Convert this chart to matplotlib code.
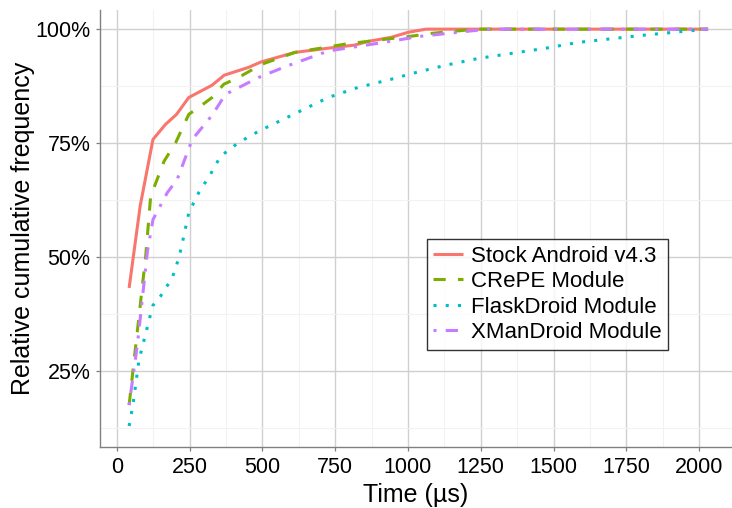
import matplotlib
matplotlib.use("Agg")
import matplotlib.pyplot as plt
from matplotlib.ticker import MultipleLocator, FuncFormatter

plt.rcParams['font.family'] = ['Liberation Sans', 'DejaVu Sans']

# ---- data ----
stock_x = [42, 80, 124, 167, 205, 247, 327, 369, 452, 495, 612, 749, 817, 862, 942, 1000, 1062, 2031]
stock_y = [43.2, 61.2, 75.8, 79.1, 81.3, 85.0, 87.7, 89.9, 91.6, 92.8, 94.9, 96.0, 96.5, 97.3, 98.2, 99.3, 100, 100]

crepe_x = [42, 99, 116, 162, 202, 247, 281, 327, 367, 418, 498, 612, 783, 925, 1005, 1085, 1153, 1233, 2031]
crepe_y = [17.5, 50.2, 63.3, 71.0, 75.1, 81.3, 82.8, 85.0, 87.9, 89.4, 92.3, 94.9, 96.7, 97.8, 98.4, 99.1, 99.5, 100, 100]

flask_x = [42, 55, 76, 114, 124, 150, 190, 213, 230, 247, 281, 321, 356, 418, 487, 584, 726, 828, 942,
           1016, 1131, 1244, 1358, 1472, 1586, 1700, 1814, 1928, 2031]
flask_y = [12.9, 17.5, 27.4, 37.0, 39.4, 41.4, 45.4, 49.8, 54.6, 59.7, 64.1, 68.1, 72.1, 75.1, 77.6, 80.6, 85.0, 87.2, 89.0,
           90.3, 92.1, 93.6, 94.7, 95.8, 97.1, 97.9, 98.7, 99.4, 100]

xman_x = [42, 71, 105, 124, 173, 207, 259, 327, 373, 487, 584, 726, 937, 1039, 1142, 1244, 1280, 2031]
xman_y = [17.5, 31.1, 51.3, 58.2, 64.1, 67.0, 75.8, 81.1, 85.7, 89.4, 91.9, 95.2, 97.3, 98.4, 99.1, 99.8, 100, 100]

series_names = ["Stock Android v4.3", "CRePE Module", "FlaskDroid Module", "XManDroid Module"]
x_ticks = [0, 250, 500, 750, 1000, 1250, 1500, 1750, 2000]
y_ticks = [25, 50, 75, 100]

# ---- figure ----
fig = plt.figure(figsize=(7.32, 5.08), dpi=100)
ax = fig.add_axes([100/732, 61/508, 1 - 100/732, (447-10)/508])

lw = 2.2
ax.plot(stock_x, stock_y, color='#F8766D', lw=lw, solid_capstyle='butt', label=series_names[0], zorder=3)
ax.plot(crepe_x, crepe_y, color='#7CAE00', lw=lw, dashes=(4, 4), dash_capstyle='butt', label=series_names[1], zorder=3)
ax.plot(flask_x, flask_y, color='#00BFC4', lw=lw, dashes=(1, 3), dash_capstyle='butt', label=series_names[2], zorder=3)
ax.plot(xman_x, xman_y, color='#C77CFF', lw=lw, dashes=(1, 3, 4, 3), dash_capstyle='butt', label=series_names[3], zorder=3)

ax.set_xlim(-58, 2113)
ax.set_ylim(8.3, 104.2)
ax.set_xticks(x_ticks)
ax.set_yticks(y_ticks)
ax.xaxis.set_minor_locator(MultipleLocator(125))
ax.yaxis.set_minor_locator(MultipleLocator(12.5))
ax.yaxis.set_major_formatter(FuncFormatter(lambda v, p: f"{int(v)}%"))

ax.grid(True, which='major', color='#d0d0d0', lw=1.0, zorder=0)
ax.grid(True, which='minor', color='#f2f2f2', lw=0.8, zorder=0)
ax.set_axisbelow(True)

for s in ['top', 'right']:
    ax.spines[s].set_visible(False)
for s in ['left', 'bottom']:
    ax.spines[s].set_color('#808080')
    ax.spines[s].set_linewidth(1.0)

ax.tick_params(which='major', length=3, width=0.9, color='#808080', labelsize=15.5, labelcolor='black', pad=4)
ax.tick_params(which='minor', length=0)

ax.set_xlabel("Time (µs)", fontsize=18, labelpad=4)
ax.set_ylabel("Relative cumulative frequency", fontsize=18, labelpad=0)

leg = ax.legend(loc='upper left', bbox_to_anchor=(426.7/732, 1 - 239/508), bbox_transform=fig.transFigure,
                fontsize=16, frameon=True, fancybox=False, edgecolor='black', borderaxespad=0,
                handlelength=1.35, handletextpad=0.35, borderpad=0.3, labelspacing=0.2)
leg.get_frame().set_linewidth(1.0)

fig.savefig("out.png", dpi=100)
